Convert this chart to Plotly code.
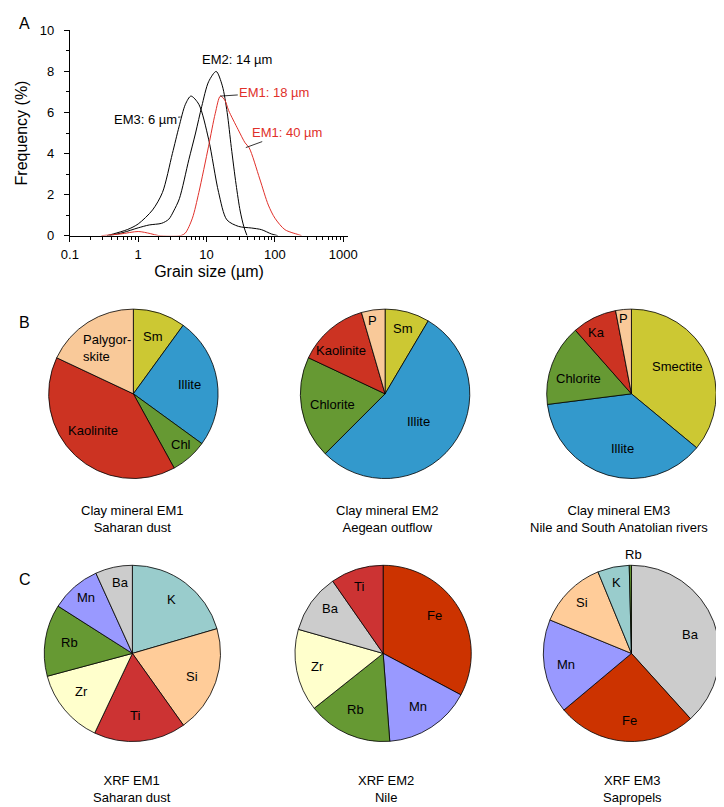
import plotly.graph_objs as go

W, H = 724, 807
FONT = 'Arial, Liberation Sans, sans-serif'
RED = '#E0302A'

# --- panel A: grain size end members ---
em1_x = [0.29, 0.55, 1.0, 1.5, 2.0, 4.2, 4.9, 6.2, 7.7, 10.7, 13.4, 15.9, 18.5, 21, 29, 36.6, 42, 60, 80, 100, 140, 220, 245]
em1_y = [0, 0.08, 0.2, 0.1, 0, 0, 0.13, 0.85, 2.1, 4.36, 5.96, 6.8, 6.6, 6.1, 5.16, 4.52, 4.28, 2.76, 1.49, 0.85, 0.29, 0.05, 0]
em2_x = [0.38, 0.6, 1.0, 1.45, 2.2, 2.8, 3.3, 4.0, 5.5, 6.9, 8.5, 10.7, 13.8, 17, 20, 23, 27, 31, 35, 39]
em2_y = [0, 0.15, 0.38, 0.52, 0.6, 0.8, 1.2, 1.8, 3.7, 5.0, 6.3, 7.5, 8.0, 7.3, 6.0, 4.3, 2.5, 1.2, 0.45, 0]
em3_x = [0.35, 0.43, 0.7, 1.0, 1.62, 2.26, 3.16, 3.95, 4.9, 5.9, 7.7, 10.7, 15, 19.8, 29.3, 45.6, 63.6, 89, 110]
em3_y = [0, 0.08, 0.3, 0.57, 1.25, 2.1, 4.0, 5.3, 6.4, 6.8, 6.4, 4.7, 2.1, 0.77, 0.45, 0.37, 0.29, 0.08, 0]

# --- panel B: clay minerals ---
clay1_labels = ['Sm', 'Illite', 'Chl', 'Kaolinite', 'Palygor-<br>skite']
clay1_values = [10, 25, 7, 40, 18]
clay1_colors = ['#CCC833', '#3399CC', '#669933', '#CC3322', '#F9C999']

clay2_labels = ['Sm', 'Illite', 'Chlorite', 'Kaolinite', 'P']
clay2_values = [8.5, 54, 19.5, 13.5, 4.5]
clay2_colors = ['#CCC833', '#3399CC', '#669933', '#CC3322', '#F9C999']

clay3_labels = ['Smectite', 'Illite', 'Chlorite', 'Ka', 'P']
clay3_values = [36, 37, 15.5, 8.5, 3]
clay3_colors = ['#CCC833', '#3399CC', '#669933', '#CC3322', '#F9C999']

# --- panel C: XRF elements ---
xrf1_labels = ['K', 'Si', 'Ti', 'Zr', 'Rb', 'Mn', 'Ba']
xrf1_values = [20.5, 19.7, 16.9, 13.8, 13.2, 9.2, 6.8]
xrf1_colors = ['#99CCCC', '#FFCC99', '#CC3333', '#FFFFCC', '#669933', '#9999FF', '#CCCCCC']

xrf2_labels = ['Fe', 'Mn', 'Rb', 'Zr', 'Ba', 'Ti']
xrf2_values = [32.8, 16, 15.5, 15.1, 10.9, 9.7]
xrf2_colors = ['#CC3300', '#9999FF', '#669933', '#FFFFCC', '#CCCCCC', '#CC3333']

xrf3_labels = ['Ba', 'Fe', 'Mn', 'Si', 'K', 'Rb']
xrf3_values = [38.3, 25.6, 17.3, 12.6, 5.8, 0.4]
xrf3_colors = ['#CCCCCC', '#CC3300', '#9999FF', '#FFCC99', '#99CCCC', '#669933']

captions = ['Clay mineral EM1<br>Saharan dust', 'Clay mineral EM2<br>Aegean outflow',
            'Clay mineral EM3<br>Nile and South Anatolian rivers',
            'XRF EM1<br>Saharan dust', 'XRF EM2<br>Nile', 'XRF EM3<br>Sapropels']


def px(x):
    return x / W


def py(y):
    return 1 - y / H


fig = go.Figure()

fig.add_trace(go.Scatter(x=em3_x, y=em3_y, mode='lines', line=dict(color='black', width=1, shape='spline', smoothing=0.8), showlegend=False))
fig.add_trace(go.Scatter(x=em2_x, y=em2_y, mode='lines', line=dict(color='black', width=1, shape='spline', smoothing=0.8), showlegend=False))
fig.add_trace(go.Scatter(x=em1_x, y=em1_y, mode='lines', line=dict(color=RED, width=1, shape='spline', smoothing=0.8), showlegend=False))


def pie(labels, values, colors, cx, cy, r):
    return go.Pie(labels=labels, values=values, textinfo='none',
                  marker=dict(colors=colors, line=dict(color='black', width=0.8)),
                  sort=False, direction='clockwise', rotation=0,
                  hoverinfo='label+value', showlegend=False,
                  domain=dict(x=[px(cx - r), px(cx + r)], y=[py(cy + r), py(cy - r)]))


# pie centres / radius in pixels, and where each slice label sits
pies = [
    (clay1_labels, clay1_values, clay1_colors, 119.5, 386, 87,
     [(139.3, 328), (176.7, 376), (168.3, 437.7), (78.3, 423.3), (65.7, 339)]),
    (clay2_labels, clay2_values, clay2_colors, 378, 386, 87,
     [(396.7, 319.3), (412.7, 414), (324, 396.7), (332.7, 342), (365, 311)]),
    (clay3_labels, clay3_values, clay3_colors, 631, 386, 87,
     [(678.3, 358.3), (621.7, 441.7), (576.7, 370), (595, 323.3), (622.7, 309.3)]),
    (xrf1_labels, xrf1_values, xrf1_colors, 118.5, 650.5, 90.5,
     [(158.3, 595.7), (180, 674.3), (120.7, 713.3), (66.7, 689.3), (54.3, 639.3), (71, 593.3), (106, 578.3)]),
    (xrf2_labels, xrf2_values, xrf2_colors, 376, 650.5, 90.5,
     [(429, 611.7), (411.7, 705), (347.3, 707.7), (308.3, 664), (321.7, 604.3), (351, 582.3)]),
    (xrf3_labels, xrf3_values, xrf3_colors, 631, 650.5, 90.5,
     [(691.7, 631.7), (629, 719.3), (563.3, 661.7), (580, 598.3), (616, 578.3), (633, 550)]),
]

anns = []
for labels, values, colors, cx, cy, r, pos in pies:
    fig.add_trace(pie(labels, values, colors, cx, cy, r))
    for lab, (lx, ly) in zip(labels, pos):
        if '<br>' in lab:
            anns.append(dict(x=px(lx), y=py(ly), xref='paper', yref='paper', text=lab,
                             xanchor='left', align='left', yanchor='middle', showarrow=False))
        else:
            anns.append(dict(x=px(lx), y=py(ly), xref='paper', yref='paper', text=lab,
                             xanchor='center', yanchor='middle', showarrow=False))

caption_pos = [(119, 513.5), (380, 513.5), (618, 513.5), (118, 789), (379, 789), (632, 789)]
for t, (cx, cy) in zip(captions, caption_pos):
    anns.append(dict(x=px(cx), y=py(cy), xref='paper', yref='paper', text=t,
                     xanchor='center', yanchor='middle', showarrow=False))

for letter, ly in (('A', 9), ('B', 313), ('C', 575)):
    anns.append(dict(x=px(8), y=py(ly), xref='paper', yref='paper', text=letter,
                     xanchor='center', yanchor='middle', showarrow=False, font=dict(size=16)))

anns += [
    dict(x=1.446, y=8.565, xref='x', yref='y', text='EM2: 14 µm', showarrow=False),
    dict(x=1.2, y=6.8, xref='x', yref='y', text='EM1: 18 µm', font=dict(color=RED),
         showarrow=True, arrowhead=0, arrowwidth=0.8, arrowcolor='black', ax=54, ay=-3.5, standoff=0),
    dict(x=1.574, y=4.29, xref='x', yref='y', text='EM1: 40 µm', font=dict(color=RED),
         showarrow=True, arrowhead=0, arrowwidth=0.8, arrowcolor='black', ax=41, ay=-15, standoff=0),
    dict(x=0.62, y=5.78, xref='x', yref='y', text='EM3: 6 µm',
         showarrow=True, arrowhead=0, arrowwidth=0.8, arrowcolor='black', ax=-35.5, ay=2.7, standoff=0),
]

minor_log = [m * 10 ** e for e in (-1, 0, 1, 2) for m in range(2, 10)]

fig.update_layout(
    width=W, height=H, margin=dict(l=0, r=0, t=0, b=0),
    paper_bgcolor='white', plot_bgcolor='white',
    font=dict(family=FONT, size=13, color='black'),
    xaxis=dict(domain=[px(54.3), px(340)], type='log', range=[-1, 3.07],
               tickmode='array', tickvals=[0.1, 1, 10, 100, 1000],
               ticktext=['0.1', '1', '10', '100', '1000'],
               showline=True, linecolor='black', linewidth=1, ticks='outside',
               ticklen=5, tickcolor='black', showgrid=False, zeroline=False,
               ticklabelstandoff=2,
               minor=dict(tickmode='array', tickvals=minor_log, ticks='outside',
                          ticklen=3, tickcolor='black', showgrid=False),
               title=dict(text='Grain size (µm)', standoff=4)),
    yaxis=dict(domain=[py(224.8), py(15.7)], range=[0, 10], dtick=2,
               showline=True, linecolor='black', linewidth=1, ticks='outside',
               ticklen=5, tickcolor='black', showgrid=False, zeroline=False,
               ticklabelstandoff=7,
               minor=dict(dtick=1, ticks='outside', ticklen=3, tickcolor='black', showgrid=False),
               title=dict(text='Frequency (%)', standoff=8)),
    annotations=anns,
)

fig.write_html('out.html')
